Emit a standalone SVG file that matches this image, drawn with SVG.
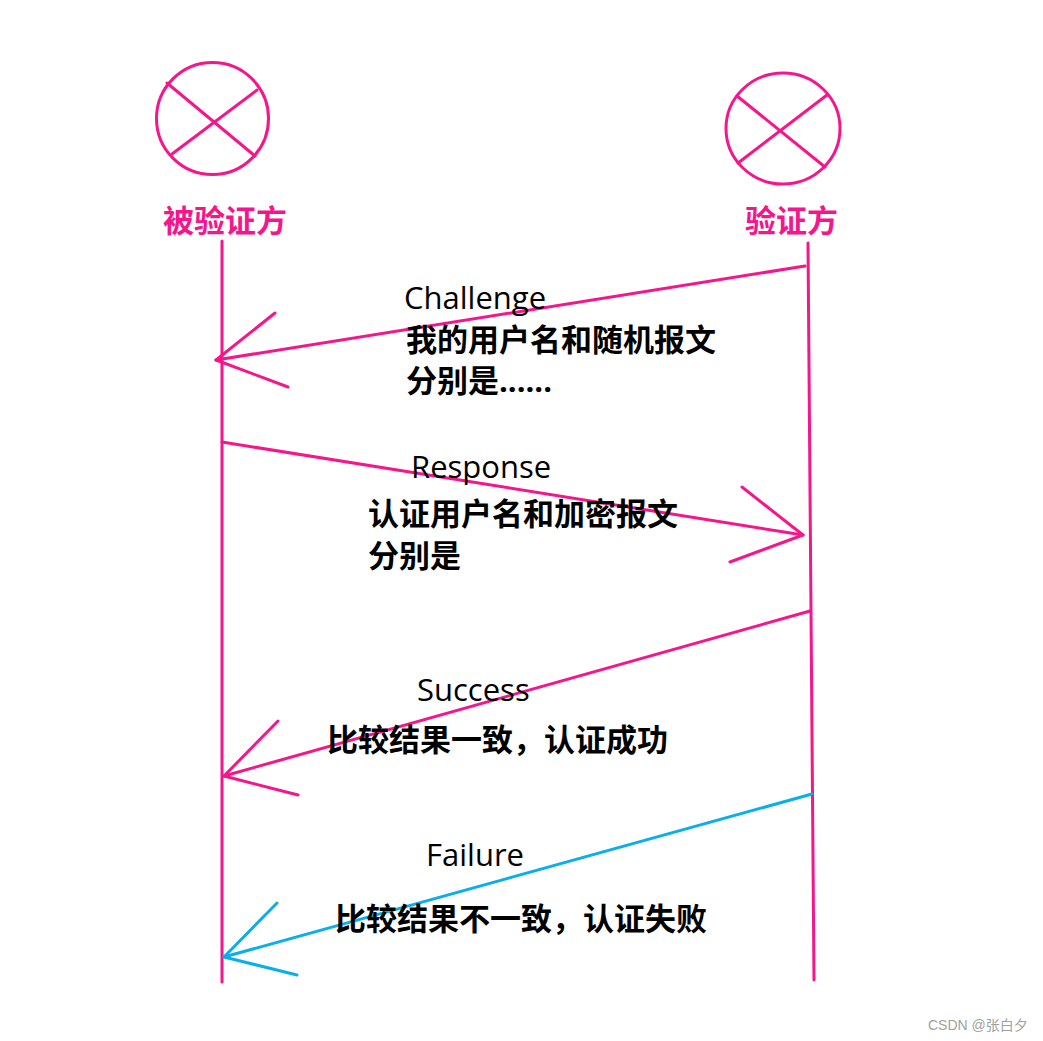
<svg xmlns="http://www.w3.org/2000/svg" width="1043" height="1041" viewBox="0 0 1043 1041">
<style>
.pk{stroke:#f5168c;stroke-width:3;fill:none;stroke-linecap:round;stroke-linejoin:round}
.cy{stroke:#0aaeea;stroke-width:3;fill:none;stroke-linecap:round;stroke-linejoin:round}
.title{font-family:"Noto Sans CJK SC","Noto Sans",sans-serif;font-weight:700;font-size:31px;fill:#f5168c}
.en{font-family:"Open Sans","Noto Sans",sans-serif;font-weight:500;font-size:31px;fill:#000}
.cn{font-family:"Noto Sans CJK SC",sans-serif;font-weight:700;font-size:31px;fill:#000}
.dots{font-family:"Open Sans",sans-serif;font-weight:700}
.wm{font-family:"Liberation Sans","Noto Sans CJK SC",sans-serif;font-size:14px;fill:#a0a0a0}
</style>
<rect width="1043" height="1041" fill="#fff"/>
<g id="prover">
<ellipse class="pk" cx="212.5" cy="118.5" rx="56" ry="56"/>
<line class="pk" x1="167" y1="83" x2="255" y2="156"/>
<line class="pk" x1="257" y1="90" x2="172" y2="154"/>
<text class="title" x="163" y="232">被验证方</text>
<line class="pk" x1="222" y1="241" x2="222" y2="982"/>
</g>
<g id="verifier">
<ellipse class="pk" cx="783" cy="128.5" rx="57" ry="55.5"/>
<line class="pk" x1="737" y1="96" x2="825" y2="167"/>
<line class="pk" x1="827" y1="95" x2="738" y2="163"/>
<text class="title" x="745" y="232">验证方</text>
<line class="pk" x1="808" y1="243" x2="814" y2="980"/>
</g>
<g id="connectors">
<line class="pk" x1="805" y1="266" x2="216" y2="360"/>
<polyline class="pk" points="275,313 216,360 288,387"/>
<line class="pk" x1="222" y1="442" x2="803" y2="535"/>
<polyline class="pk" points="742,487 803,535 730,562"/>
<line class="pk" x1="810" y1="611" x2="224" y2="776"/>
<polyline class="pk" points="278,721 224,776 298,795"/>
<line class="cy" x1="812" y1="794" x2="224" y2="957"/>
<polyline class="cy" points="277,903 224,957 297,975"/>
</g>
<g id="labels">
<text class="en" x="404" y="309">Challenge</text>
<text class="cn" x="406" y="351">我的用户名和随机报文</text>
<text class="cn" x="406" y="392">分别是<tspan class="dots">......</tspan></text>
<text class="en" x="411" y="478">Response</text>
<text class="cn" x="368" y="525">认证用户名和加密报文</text>
<text class="cn" x="368" y="567">分别是</text>
<text class="en" x="417" y="701">Success</text>
<text class="cn" x="327" y="751">比较结果一致，认证成功</text>
<text class="en" x="426" y="866">Failure</text>
<text class="cn" x="335" y="930">比较结果不一致，认证失败</text>
</g>
<text class="wm" x="928" y="1030">CSDN @张白夕</text>
</svg>
